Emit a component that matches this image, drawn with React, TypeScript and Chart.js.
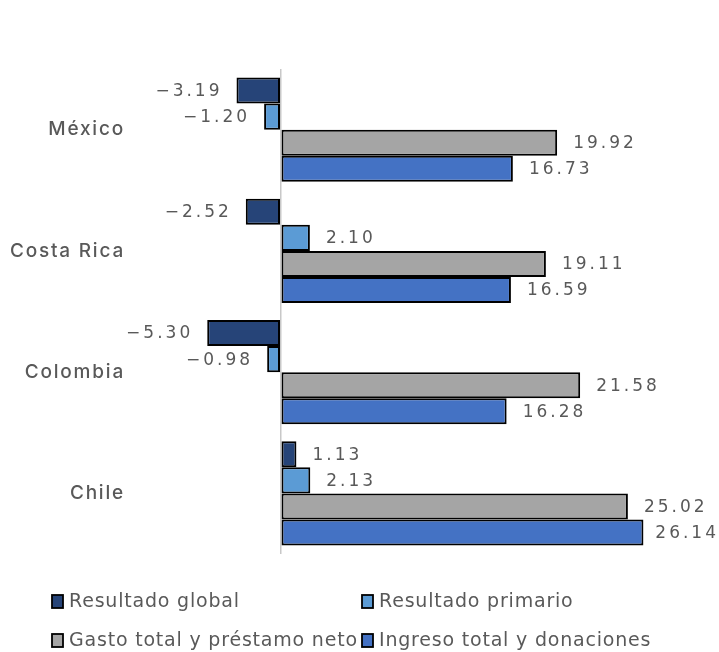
import React, { useEffect, useRef } from "react";
import { Chart, registerables } from "chart.js";

Chart.register(...registerables);

// Fiscal balances by country (% of GDP)
const categories = ["México", "Costa Rica", "Colombia", "Chile"];
const seriesNames = [
  "Resultado global",
  "Resultado primario",
  "Gasto total y préstamo neto",
  "Ingreso total y donaciones",
];
const resultadoGlobal = [-3.19, -2.52, -5.3, 1.13];
const resultadoPrimario = [-1.2, 2.1, -0.98, 2.13];
const gastoTotal = [19.92, 19.11, 21.58, 25.02];
const ingresoTotal = [16.73, 16.59, 16.28, 26.14];
const seriesColors = ["#264478", "#5B9BD5", "#A5A5A5", "#4472C4"];

const FONT_FAMILY = "'DejaVu Sans', sans-serif";
const TEXT_COLOR = "#595959";

const formatValue = (v: number) =>
  (v < 0 ? "\u2212" : "") + Math.abs(v).toFixed(2);

// Wider tracking for the category axis labels
const axisTracking = {
  id: "axisTracking",
  beforeDraw(chart: any) {
    (chart.ctx as any).letterSpacing = "1.8px";
  },
  beforeDatasetsDraw(chart: any) {
    (chart.ctx as any).letterSpacing = "0px";
  },
};

// Value labels beside each bar end
const valueLabels = {
  id: "valueLabels",
  afterDatasetsDraw(chart: any) {
    const ctx = chart.ctx as CanvasRenderingContext2D;
    ctx.save();
    ctx.font = `17px ${FONT_FAMILY}`;
    (ctx as any).letterSpacing = "3px";
    ctx.fillStyle = TEXT_COLOR;
    ctx.textBaseline = "middle";
    chart.data.datasets.forEach((ds: any, di: number) => {
      const meta = chart.getDatasetMeta(di);
      meta.data.forEach((el: any, i: number) => {
        const v = ds.data[i] as number;
        const text = formatValue(v);
        const w = ctx.measureText(text).width;
        if (v >= 0) {
          let x = el.x + 16;
          if (x + w > chart.width) x = chart.width - w;
          ctx.textAlign = "left";
          ctx.fillText(text, x, el.y + 1);
        } else {
          ctx.textAlign = "right";
          ctx.fillText(text, el.x - 14, el.y + 1);
        }
      });
    });
    ctx.restore();
  },
};

// Two-column legend under the plot
const gridLegend = {
  id: "gridLegend",
  afterDraw(chart: any, _args: any, opts: any) {
    const ctx = chart.ctx as CanvasRenderingContext2D;
    ctx.save();
    ctx.font = `19px ${FONT_FAMILY}`;
    (ctx as any).letterSpacing = "0.8px";
    ctx.textBaseline = "middle";
    ctx.textAlign = "left";
    chart.data.datasets.forEach((ds: any, i: number) => {
      const col = i % 2;
      const row = Math.floor(i / 2);
      const x = opts.columns[col];
      const y = opts.rows[row];
      ctx.fillStyle = ds.backgroundColor;
      ctx.fillRect(x, y - 7, 11, 13);
      ctx.lineWidth = 1.8;
      ctx.strokeStyle = "#000000";
      ctx.strokeRect(x, y - 7, 11, 13);
      ctx.fillStyle = TEXT_COLOR;
      ctx.fillText(ds.label, x + 17, y);
    });
    ctx.restore();
  },
};

export default function App() {
  const canvasRef = useRef<HTMLCanvasElement>(null);

  useEffect(() => {
    if (!canvasRef.current) return;
    const seriesValues = [resultadoGlobal, resultadoPrimario, gastoTotal, ingresoTotal];
    const chart = new Chart(canvasRef.current, {
      type: "bar",
      data: {
        labels: categories,
        datasets: seriesNames.map((name, i) => ({
          label: name,
          data: seriesValues[i],
          backgroundColor: seriesColors[i],
          borderColor: "#000000",
          borderWidth: 2,
          borderSkipped: false,
          categoryPercentage: 0.86,
          barPercentage: 1,
        })),
      },
      options: {
        indexAxis: "y",
        responsive: false,
        maintainAspectRatio: false,
        animation: false,
        layout: { padding: { top: 69, right: 22, bottom: 98, left: 0 } },
        plugins: {
          legend: { display: false },
          tooltip: { enabled: false },
          gridLegend: { columns: [52, 362], rows: [602, 641] },
        } as any,
        scales: {
          x: {
            min: -10,
            max: 30,
            ticks: { display: false, stepSize: 10 },
            grid: {
              color: (c: any) => (c.tick && c.tick.value === 0 ? "#C8C8C8" : "rgba(0,0,0,0)"),
              lineWidth: 1.5,
              drawTicks: false,
            },
            border: { display: false },
            afterFit: (s: any) => {
              s.height = 0;
            },
          },
          y: {
            ticks: {
              color: TEXT_COLOR,
              font: { family: "Inter, sans-serif", size: 19, weight: 500 },
              padding: 17,
            },
            grid: { display: false, drawTicks: false },
            border: { display: false },
            afterFit: (s: any) => {
              s.width = 142;
            },
          },
        },
      },
      plugins: [axisTracking, valueLabels, gridLegend],
    });
    return () => chart.destroy();
  }, []);

  return (
    <div style={{ position: "absolute", left: 0, top: 0, width: 719, height: 652, background: "#fff" }}>
      <canvas ref={canvasRef} width={719} height={652} />
    </div>
  );
}
